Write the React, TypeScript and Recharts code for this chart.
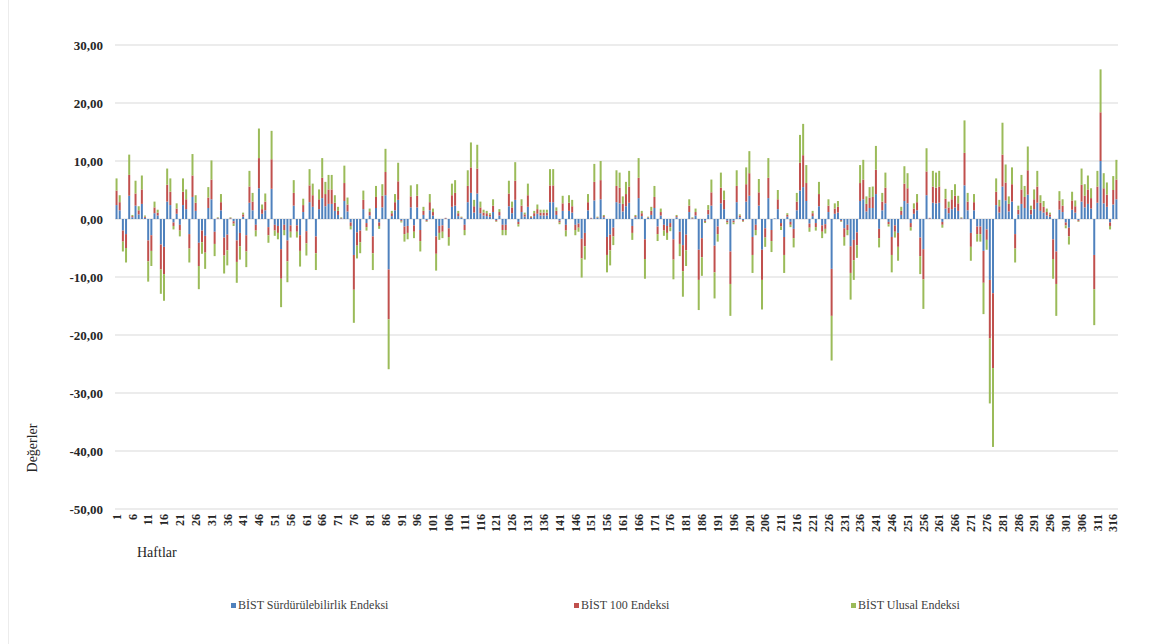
import React from 'react';
import { BarChart, Bar, XAxis, YAxis, CartesianGrid, Legend } from 'recharts';

const FONT = '"Liberation Serif", "Times New Roman", serif';

// Category labels: week numbers 1..317
const weeks: string[] = Array.from({ length: 317 }, (_, i) => String(i + 1));
const yTicks = [-50, -40, -30, -20, -10, 0, 10, 20, 30];
const seriesNames = ['BİST Sürdürülebilirlik Endeksi', 'BİST 100 Endeksi', 'BİST Ulusal Endeksi'];
const seriesColors = ['#4F81BD', '#C0504D', '#9BBB59'];

const sustainability = [
  2.4, 1.5, -2.0, -2.6, 4.0, 0.3, 2.3, 0.8, 2.6, 0.2,
  -3.7, -2.8, 1.0, 0.6, -4.4, -4.8, 3.0, 2.4, -0.6, 0.9,
  -1.0, 2.4, 1.7, -2.6, 3.8, 1.4, -4.1, -2.0, -2.9, 1.9,
  3.4, -2.2, 0.1, 1.5, -3.2, -2.7, 0.1, -0.4, -3.7, -2.4,
  0.4, -2.8, 2.8, 1.5, -1.0, 5.3, 0.9, 1.5, -1.4, 5.2,
  -1.0, -1.2, -5.2, -1.0, -3.7, -1.1, 2.3, -1.1, -2.8, 1.2,
  -2.1, 2.9, 2.1, -3.0, 1.7, 3.6, 2.2, 2.6, 2.6, 1.4,
  0.7, 0.1, 3.1, 1.3, -0.6, -6.2, -2.3, -2.0, 1.7, -0.7,
  0.6, -3.0, 1.9, -0.6, 2.0, 4.1, -8.7, 0.5, 1.5, 3.3,
  -0.2, -1.3, -1.2, 2.0, -1.1, 2.0, -1.9, 0.7, -0.2, 1.5,
  0.6, -3.0, -1.2, -1.1, 0.1, -1.6, 2.1, 2.3, 0.5, 0.2,
  -1.0, 2.9, 4.5, 1.1, 4.4, 1.0, 0.6, 0.5, 0.4, 1.2,
  -0.2, 0.6, -1.0, -1.0, 2.2, 1.0, 3.3, -0.5, 1.2, 0.4,
  2.1, 0.2, 0.5, 0.9, 0.6, 0.6, 0.6, 2.9, 2.9, 0.7,
  -0.3, 1.4, -1.0, 1.4, 1.1, -1.0, -0.8, -3.4, -2.4, 1.5,
  0.1, 3.2, 0.2, 3.4, 0.3, -3.1, -2.7, -1.5, 2.9, 2.7,
  1.3, 2.2, 2.8, -1.2, 0.3, 3.6, 0.5, -3.5, 0.2, 0.7,
  1.9, -1.3, 0.6, -1.0, -1.2, -0.7, -3.5, 0.3, -2.2, -4.5,
  -2.7, 1.2, 0.1, 0.6, -5.3, -3.3, -0.3, 0.8, 2.3, -4.6,
  -1.3, 2.7, 1.7, -0.3, -5.6, -0.3, 2.9, 0.3, -0.2, 3.0,
  4.0, -3.1, -1.0, 2.3, -5.3, -1.6, 3.6, -1.9, 0.1, 1.7,
  -0.7, -3.1, 0.4, -0.5, -1.7, 1.5, 4.9, 5.5, 3.1, -0.8,
  0.5, -0.7, 2.2, -1.1, -0.9, 1.2, -8.6, 0.9, 1.1, -0.2,
  -1.6, -1.0, -4.7, -3.6, -2.3, 3.1, 3.4, 1.3, 1.9, 1.9,
  4.3, -1.7, 1.5, 2.7, -0.5, -3.1, -1.1, -2.4, 0.7, 3.1,
  2.7, -0.7, 0.9, 1.5, -3.2, -5.2, 4.1, 0.1, 2.8, 2.7,
  2.8, -0.5, 1.8, 1.0, 1.7, 2.0, 1.4, 0.1, 5.8, 1.5,
  -2.4, 1.5, -1.3, -1.3, -5.5, -1.8, -10.5, -12.8, 2.4, 1.1,
  5.6, 3.2, 1.3, 3.0, -2.6, 0.8, 2.6, 1.9, 4.2, 0.8,
  1.7, 2.8, 1.4, 1.1, 0.6, 0.4, -3.5, -5.6, 1.6, 1.2,
  -0.6, -1.5, 1.6, 1.1, -0.2, 3.0, 2.0, 2.6, 1.8, -6.2,
  2.8, 10.0, 2.7, 2.1, -0.6, 2.5, 3.4,
];

const bist100 = [
  2.5, 1.4, -1.9, -2.4, 3.6, 0.2, 2.1, 0.7, 2.5, 0.2,
  -3.6, -2.7, 1.0, 0.5, -4.3, -4.7, 2.9, 2.3, -0.6, 0.9,
  -1.0, 2.3, 1.7, -2.5, 3.7, 1.4, -4.0, -2.0, -2.9, 1.8,
  3.4, -2.1, 0.1, 1.4, -3.1, -2.7, 0.1, -0.4, -3.7, -2.3,
  0.4, -2.8, 2.8, 1.5, -1.0, 5.2, 0.8, 1.5, -1.4, 5.1,
  -1.0, -1.2, -5.1, -0.9, -3.6, -1.1, 2.2, -1.1, -2.7, 1.2,
  -2.1, 2.9, 2.0, -2.9, 1.7, 3.5, 2.1, 2.5, 2.5, 1.4,
  0.7, 0.1, 3.1, 1.2, -0.6, -6.0, -2.3, -2.0, 1.6, -0.7,
  0.6, -2.9, 1.9, -0.6, 2.0, 4.0, -8.6, 0.5, 1.4, 3.2,
  -0.2, -1.3, -1.2, 1.9, -1.1, 2.0, -1.9, 0.7, -0.2, 1.4,
  0.6, -3.0, -1.2, -1.1, 0.1, -1.5, 2.0, 2.2, 0.5, 0.1,
  -0.9, 2.8, 4.4, 1.1, 4.3, 1.0, 0.5, 0.5, 0.3, 1.1,
  -0.2, 0.6, -0.9, -0.9, 2.2, 1.0, 3.3, -0.4, 1.1, 0.4,
  2.0, 0.2, 0.5, 0.8, 0.5, 0.5, 0.5, 2.9, 2.9, 0.7,
  -0.3, 1.3, -1.0, 1.4, 1.1, -0.9, -0.7, -3.4, -2.3, 1.4,
  0.1, 3.2, 0.1, 3.3, 0.2, -3.1, -2.7, -1.5, 2.8, 2.7,
  1.3, 2.1, 2.8, -1.2, 0.2, 3.5, 0.5, -3.4, 0.1, 0.7,
  1.9, -1.3, 0.6, -1.0, -1.2, -0.7, -3.5, 0.2, -2.1, -4.5,
  -2.7, 1.1, 0.1, 0.6, -5.2, -3.3, -0.2, 0.8, 2.3, -4.6,
  -1.3, 2.7, 1.6, -0.3, -5.6, -0.3, 2.8, 0.3, -0.2, 3.0,
  3.9, -3.1, -0.9, 2.3, -5.2, -1.6, 3.5, -1.9, 0.0, 1.7,
  -0.6, -3.1, 0.3, -0.5, -1.6, 1.5, 4.8, 5.5, 3.1, -0.7,
  0.5, -0.7, 2.1, -1.1, -0.8, 1.1, -8.1, 0.9, 1.0, -0.2,
  -1.5, -0.9, -4.6, -3.5, -2.2, 3.1, 3.4, 1.3, 1.8, 1.9,
  4.2, -1.6, 1.5, 2.7, -0.4, -3.1, -1.1, -2.4, 0.7, 3.0,
  2.6, -0.7, 0.9, 1.4, -3.2, -5.2, 4.1, 0.1, 2.8, 2.7,
  2.8, -0.5, 1.7, 1.0, 1.7, 2.0, 1.3, 0.1, 5.6, 1.5,
  -2.4, 1.4, -1.3, -1.3, -5.5, -1.8, -10.1, -12.9, 2.3, 1.1,
  5.5, 3.1, 1.3, 3.0, -2.5, 0.8, 2.5, 1.9, 4.2, 0.8,
  1.7, 2.8, 1.4, 1.0, 0.6, 0.4, -3.4, -5.6, 1.6, 1.1,
  -0.5, -1.5, 1.6, 1.1, -0.2, 2.9, 2.0, 2.5, 1.8, -5.9,
  2.8, 8.4, 2.6, 2.1, -0.6, 2.5, 3.4,
];

const national = [
  2.1, 1.2, -1.7, -2.5, 3.5, 0.2, 2.2, 0.7, 2.4, 0.2,
  -3.5, -2.6, 1.0, 0.5, -4.2, -4.6, 2.8, 2.3, -0.6, 0.9,
  -1.0, 2.3, 1.7, -2.4, 3.7, 1.3, -4.0, -2.0, -2.8, 1.8,
  3.3, -2.1, 0.1, 1.4, -3.1, -2.6, 0.1, -0.4, -3.6, -2.3,
  0.3, -2.7, 2.7, 1.5, -1.0, 5.1, 0.8, 1.4, -1.3, 4.9,
  -0.9, -1.1, -4.9, -0.9, -3.6, -1.0, 2.2, -1.0, -2.7, 1.1,
  -2.1, 2.8, 2.0, -2.9, 1.7, 3.4, 2.1, 2.5, 2.5, 1.3,
  0.7, 0.1, 3.0, 1.2, -0.6, -5.7, -2.2, -1.9, 1.6, -0.6,
  0.6, -2.9, 1.9, -0.5, 2.0, 4.0, -8.6, 0.4, 1.4, 3.2,
  -0.2, -1.3, -1.1, 1.9, -1.1, 2.0, -1.8, 0.7, -0.1, 1.4,
  0.6, -2.9, -1.2, -1.1, 0.0, -1.5, 2.0, 2.2, 0.4, 0.1,
  -0.9, 2.7, 4.3, 1.1, 4.1, 1.0, 0.5, 0.4, 0.3, 1.1,
  -0.1, 0.5, -0.9, -0.9, 2.2, 1.0, 3.2, -0.4, 1.1, 0.3,
  2.0, 0.1, 0.4, 0.8, 0.5, 0.5, 0.5, 2.8, 2.8, 0.6,
  -0.3, 1.3, -1.0, 1.3, 1.1, -0.9, -0.7, -3.3, -2.3, 1.4,
  0.0, 3.1, 0.1, 3.3, 0.2, -3.0, -2.6, -1.5, 2.7, 2.6,
  1.3, 2.1, 2.7, -1.2, 0.2, 3.4, 0.4, -3.4, 0.1, 0.7,
  1.9, -1.2, 0.6, -0.9, -1.2, -0.7, -3.4, 0.2, -2.1, -4.4,
  -2.7, 1.1, 0.1, 0.6, -5.2, -3.2, -0.2, 0.8, 2.2, -4.5,
  -1.3, 2.6, 1.6, -0.3, -5.5, -0.3, 2.7, 0.2, -0.1, 2.9,
  3.8, -3.1, -0.9, 2.3, -5.1, -1.6, 3.4, -1.9, 0.0, 1.6,
  -0.6, -3.1, 0.3, -0.4, -1.6, 1.5, 4.8, 5.4, 3.1, -0.7,
  0.4, -0.6, 2.1, -1.1, -0.8, 1.1, -7.7, 0.9, 1.0, -0.1,
  -1.5, -0.9, -4.6, -3.4, -2.2, 3.1, 3.4, 1.3, 1.8, 1.8,
  4.1, -1.6, 1.5, 2.6, -0.4, -3.0, -1.0, -2.4, 0.7, 3.0,
  2.6, -0.6, 0.9, 1.4, -3.1, -5.1, 4.0, 0.0, 2.7, 2.6,
  2.7, -0.5, 1.7, 1.0, 1.6, 2.0, 1.3, 0.1, 5.6, 1.5,
  -2.4, 1.4, -1.3, -1.3, -5.4, -1.7, -11.2, -13.6, 2.3, 1.1,
  5.5, 3.1, 1.3, 2.9, -2.4, 0.7, 2.5, 1.9, 4.1, 0.7,
  1.7, 2.7, 1.3, 1.0, 0.6, 0.3, -3.4, -5.5, 1.6, 1.1,
  -0.5, -1.4, 1.5, 1.0, -0.1, 2.8, 2.0, 2.4, 1.7, -6.2,
  2.7, 7.4, 2.6, 2.1, -0.6, 2.4, 3.4,
];

const data = weeks.map((w, i) => ({
  week: w,
  s: sustainability[i],
  b: bist100[i],
  n: national[i],
}));

const fmt = (v: number) => v.toFixed(2).replace('.', ',');

const XTick = (props: any) => {
  const { x, y, payload } = props;
  return (
    <text
      transform={`translate(${x},${y}) rotate(-90)`}
      textAnchor="end"
      dy="0.35em"
      fontFamily={FONT}
      fontSize={12}
      fontWeight="bold"
      fill="#262626"
    >
      {payload.value}
    </text>
  );
};

const LegendContent = () => {
  const xs = [231, 574, 851];
  return (
    <div style={{ position: 'relative', width: 1153, height: 18, fontFamily: FONT }}>
      {seriesNames.map((name, i) => (
        <div
          key={name}
          style={{
            position: 'absolute',
            left: xs[i],
            top: 0,
            height: 18,
            display: 'flex',
            alignItems: 'center',
            whiteSpace: 'nowrap',
            fontSize: 12,
            fontFamily: FONT,
            color: '#404040',
          }}
        >
          <span style={{ display: 'inline-block', width: 5, height: 5, background: seriesColors[i], marginRight: 2 }} />
          <span style={{ fontFamily: FONT, fontSize: 12 }}>{name}</span>
        </div>
      ))}
    </div>
  );
};

export default function App() {
  return (
    <div style={{ position: 'absolute', left: 0, top: 0, width: 1153, height: 644, background: '#fff', fontFamily: FONT }}>
      <div style={{ position: 'absolute', left: 8, top: 0, width: 1, height: 644, background: '#ececec' }} />
      <BarChart
        width={1153}
        height={644}
        data={data}
        stackOffset="sign"
        barCategoryGap={0.55}
        margin={{ top: 45, right: 35, bottom: 85, left: 45 }}
      >
        <CartesianGrid vertical={false} stroke="#d9d9d9" />
        <XAxis
          dataKey="week"
          interval={4}
          tickLine={false}
          axisLine={false}
          tickSize={0}
          tickMargin={5}
          height={50}
          tick={<XTick />}
          label={{
            content: () => (
              <text x={137} y={557} fontFamily={FONT} fontSize={14} fill="#262626">
                Haftlar
              </text>
            ),
          }}
        />
        <YAxis
          width={70}
          domain={[-50, 30]}
          ticks={yTicks}
          tickFormatter={fmt}
          tickLine={false}
          axisLine={false}
          tickSize={0}
          tickMargin={12}
          tick={{ fontFamily: FONT, fontSize: 13, fontWeight: 'bold', fill: '#262626' }}
          label={{
            content: () => (
              <text
                transform="translate(37,448) rotate(-90)"
                textAnchor="middle"
                fontFamily={FONT}
                fontSize={14}
                fill="#262626"
              >
                Değerler
              </text>
            ),
          }}
        />
        <Legend
          layout="horizontal"
          verticalAlign="middle"
          align="center"
          wrapperStyle={{ position: 'absolute', top: 596, left: 0, width: 1153, height: 18, fontFamily: FONT }}
          content={<LegendContent />}
        />
        <Bar dataKey="s" name={seriesNames[0]} stackId="a" fill={seriesColors[0]} isAnimationActive={false} />
        <Bar dataKey="b" name={seriesNames[1]} stackId="a" fill={seriesColors[1]} isAnimationActive={false} />
        <Bar dataKey="n" name={seriesNames[2]} stackId="a" fill={seriesColors[2]} isAnimationActive={false} />
      </BarChart>
    </div>
  );
}
